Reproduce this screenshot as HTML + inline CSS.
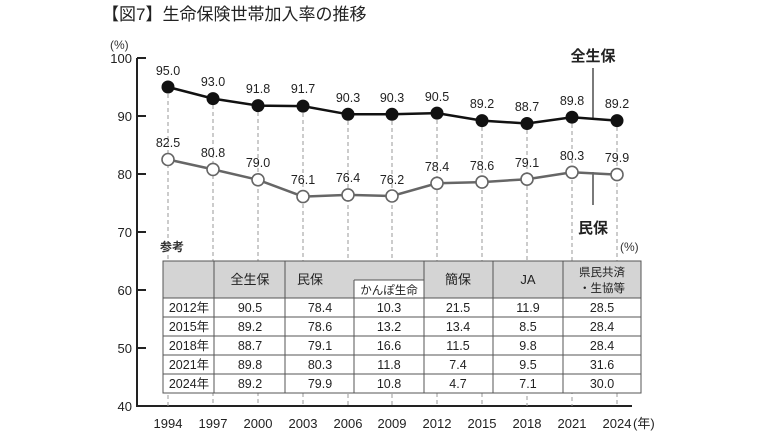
<!DOCTYPE html>
<html><head><meta charset="utf-8"><style>
body{margin:0;background:#fff;}
svg{display:block;font-family:"Liberation Sans","Noto Sans CJK JP",sans-serif;}
</style></head><body>
<svg width="770" height="433" viewBox="0 0 770 433" xmlns="http://www.w3.org/2000/svg">
<text x="102" y="20" font-size="17" fill="#222">【図7】生命保険世帯加入率の推移</text>
<text x="110" y="49" font-size="12" fill="#333">(%)</text>
<g font-size="13" fill="#222" text-anchor="end">
<text x="132" y="63">100</text><text x="132" y="121">90</text><text x="132" y="179">80</text>
<text x="132" y="237">70</text><text x="132" y="295">60</text><text x="132" y="353">50</text><text x="132" y="411">40</text>
</g>
<g stroke="#222" stroke-width="2">
<line x1="137" y1="58" x2="137" y2="406"/>
<line x1="136" y1="406" x2="632" y2="406"/>
<line x1="137" y1="58" x2="146" y2="58"/><line x1="137" y1="116" x2="146" y2="116"/>
<line x1="137" y1="174" x2="146" y2="174"/><line x1="137" y1="232" x2="146" y2="232"/>
<line x1="137" y1="290" x2="146" y2="290"/><line x1="137" y1="348" x2="146" y2="348"/>
</g>
<g stroke="#999" stroke-width="1" stroke-dasharray="4,3">
<line x1="168" y1="87" x2="168" y2="406"/><line x1="213" y1="98" x2="213" y2="406"/>
<line x1="258" y1="105" x2="258" y2="406"/><line x1="303" y1="106" x2="303" y2="406"/>
<line x1="348" y1="114" x2="348" y2="406"/><line x1="392" y1="114" x2="392" y2="406"/>
<line x1="437" y1="113" x2="437" y2="406"/><line x1="482" y1="120" x2="482" y2="406"/>
<line x1="527" y1="123" x2="527" y2="406"/><line x1="572" y1="117" x2="572" y2="406"/>
<line x1="617" y1="120" x2="617" y2="406"/>
</g>
<text x="160" y="251" font-size="12" font-weight="bold" fill="#333">参考</text>
<text x="620" y="251" font-size="12" fill="#333">(%)</text>
<rect x="163" y="261" width="478" height="37" fill="#d4d4d4"/>
<rect x="163" y="298" width="478" height="95" fill="#fff"/>
<rect x="354" y="280" width="70" height="18" fill="#fff"/>
<g stroke="#555" stroke-width="1" fill="none">
<rect x="163" y="261" width="478" height="132"/>
<line x1="163" y1="298" x2="641" y2="298"/>
<line x1="163" y1="317" x2="641" y2="317"/><line x1="163" y1="336" x2="641" y2="336"/>
<line x1="163" y1="355" x2="641" y2="355"/><line x1="163" y1="374" x2="641" y2="374"/>
<line x1="214" y1="261" x2="214" y2="393"/><line x1="285" y1="261" x2="285" y2="393"/>
<line x1="354" y1="280" x2="354" y2="393"/><line x1="424" y1="261" x2="424" y2="393"/>
<line x1="493" y1="261" x2="493" y2="393"/><line x1="563" y1="261" x2="563" y2="393"/>
<line x1="354" y1="280" x2="424" y2="280"/>
</g>
<g font-size="13" fill="#222" text-anchor="middle">
<text x="250" y="284">全生保</text><text x="310" y="284">民保</text>
<text x="389" y="294" font-size="11.5">かんぽ生命</text>
<text x="458" y="284">簡保</text><text x="528" y="284">JA</text>
<text x="602" y="276" font-size="11.5">県民共済</text><text x="602" y="292" font-size="11.5">・生協等</text>
</g>
<g font-size="12.5" fill="#222" text-anchor="middle">
<text x="189" y="312">2012年</text><text x="250" y="312">90.5</text><text x="320" y="312">78.4</text><text x="389" y="312">10.3</text><text x="458" y="312">21.5</text><text x="528" y="312">11.9</text><text x="602" y="312">28.5</text>
<text x="189" y="331">2015年</text><text x="250" y="331">89.2</text><text x="320" y="331">78.6</text><text x="389" y="331">13.2</text><text x="458" y="331">13.4</text><text x="528" y="331">8.5</text><text x="602" y="331">28.4</text>
<text x="189" y="350">2018年</text><text x="250" y="350">88.7</text><text x="320" y="350">79.1</text><text x="389" y="350">16.6</text><text x="458" y="350">11.5</text><text x="528" y="350">9.8</text><text x="602" y="350">28.4</text>
<text x="189" y="369">2021年</text><text x="250" y="369">89.8</text><text x="320" y="369">80.3</text><text x="389" y="369">11.8</text><text x="458" y="369">7.4</text><text x="528" y="369">9.5</text><text x="602" y="369">31.6</text>
<text x="189" y="388">2024年</text><text x="250" y="388">89.2</text><text x="320" y="388">79.9</text><text x="389" y="388">10.8</text><text x="458" y="388">4.7</text><text x="528" y="388">7.1</text><text x="602" y="388">30.0</text>
</g>
<g stroke="#222" stroke-width="1.2">
<line x1="593" y1="68" x2="593" y2="118"/><line x1="593" y1="172" x2="593" y2="205"/>
</g>
<text x="593" y="61" font-size="15" font-weight="bold" text-anchor="middle" fill="#222">全生保</text>
<text x="593" y="233" font-size="15" font-weight="bold" text-anchor="middle" fill="#222">民保</text>
<polyline fill="none" stroke="#111" stroke-width="2.5" points="168,87 213,98.6 258,105.6 303,106.1 348,114.3 392,114.3 437,113.1 482,120.6 527,123.5 572,117.2 617,120.6"/>
<g fill="#111">
<circle cx="168" cy="87" r="6.5"/><circle cx="213" cy="98.6" r="6.5"/><circle cx="258" cy="105.6" r="6.5"/><circle cx="303" cy="106.1" r="6.5"/><circle cx="348" cy="114.3" r="6.5"/><circle cx="392" cy="114.3" r="6.5"/><circle cx="437" cy="113.1" r="6.5"/><circle cx="482" cy="120.6" r="6.5"/><circle cx="527" cy="123.5" r="6.5"/><circle cx="572" cy="117.2" r="6.5"/><circle cx="617" cy="120.6" r="6.5"/>
</g>
<polyline fill="none" stroke="#666" stroke-width="2.5" points="168,159.5 213,169.4 258,179.8 303,196.6 348,194.9 392,196 437,183.3 482,182.1 527,179.2 572,172.3 617,174.6"/>
<g fill="#fff" stroke="#666" stroke-width="1.6">
<circle cx="168" cy="159.5" r="6"/><circle cx="213" cy="169.4" r="6"/><circle cx="258" cy="179.8" r="6"/><circle cx="303" cy="196.6" r="6"/><circle cx="348" cy="194.9" r="6"/><circle cx="392" cy="196" r="6"/><circle cx="437" cy="183.3" r="6"/><circle cx="482" cy="182.1" r="6"/><circle cx="527" cy="179.2" r="6"/><circle cx="572" cy="172.3" r="6"/><circle cx="617" cy="174.6" r="6"/>
</g>
<g font-size="12.5" fill="#222" text-anchor="middle">
<text x="168" y="75">95.0</text><text x="213" y="86">93.0</text><text x="258" y="93">91.8</text><text x="303" y="93">91.7</text><text x="348" y="102">90.3</text><text x="392" y="102">90.3</text><text x="437" y="101">90.5</text><text x="482" y="108">89.2</text><text x="527" y="111">88.7</text><text x="572" y="105">89.8</text><text x="617" y="108">89.2</text>
<text x="168" y="147">82.5</text><text x="213" y="157">80.8</text><text x="258" y="167">79.0</text><text x="303" y="184">76.1</text><text x="348" y="182">76.4</text><text x="392" y="184">76.2</text><text x="437" y="171">78.4</text><text x="482" y="170">78.6</text><text x="527" y="167">79.1</text><text x="572" y="160">80.3</text><text x="617" y="162">79.9</text>
</g>
<g font-size="13" fill="#222" text-anchor="middle">
<text x="168" y="428">1994</text><text x="213" y="428">1997</text><text x="258" y="428">2000</text><text x="303" y="428">2003</text><text x="348" y="428">2006</text><text x="392" y="428">2009</text><text x="437" y="428">2012</text><text x="482" y="428">2015</text><text x="527" y="428">2018</text><text x="572" y="428">2021</text><text x="617" y="428">2024</text>
</g>
<text x="633" y="428" font-size="13" fill="#222">(年)</text>
</svg>
</body></html>
